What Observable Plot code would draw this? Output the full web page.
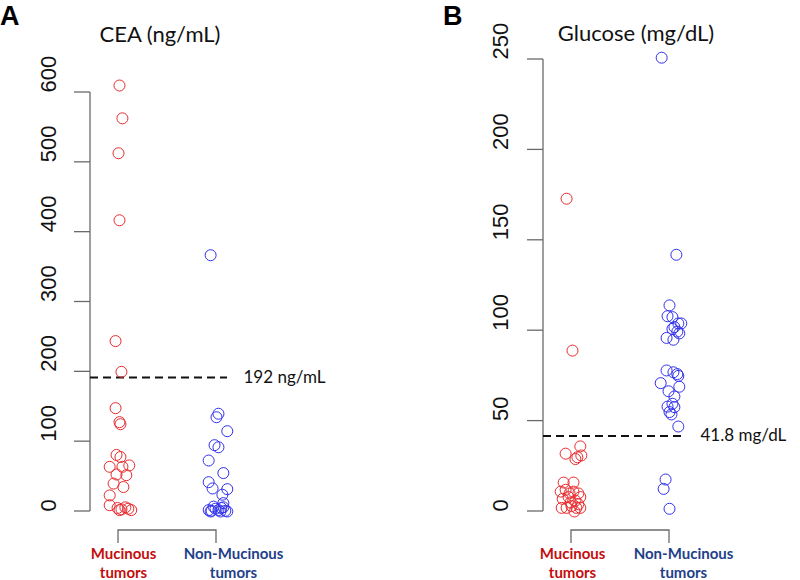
<!DOCTYPE html>
<html><head><meta charset="utf-8">
<script src="https://cdn.jsdelivr.net/npm/d3@7"></script>
<script src="https://cdn.jsdelivr.net/npm/@observablehq/plot@0.6"></script>
<style>
html,body{margin:0;padding:0;background:#fff;}
#root{position:relative;width:800px;height:580px;overflow:hidden;background:#fff;}
.panel{position:absolute;top:0;}
.letter{position:absolute;font-family:"Liberation Sans",Arial,sans-serif;font-weight:bold;font-size:27px;line-height:27px;color:#000;}
.title{position:absolute;font-family:Lato,"Open Sans",sans-serif;font-size:22px;line-height:22px;text-align:center;width:240px;color:#111;}
</style></head><body><div id="root"></div>
<script>
// ---- data ----
const groupLabels = ["Mucinous\ntumors", "Non-Mucinous\ntumors"];
const groupColors = ["#c40d0d", "#1f3f8a"];

const ceaTitle = "CEA (ng/mL)";
const ceaTicks = [0, 100, 200, 300, 400, 500, 600];
const ceaCutoff = 192;
const ceaCutoffLabel = "192 ng/mL";
const ceaMucinous = [610,563,513,417,244,200,148,128,125,81,78,64,64,66,53,52,40,35,23,9,5,3,6,4,2,2];
const ceaMucinousJitter = [0.01,0.04,0,0.01,-0.03,0.03,-0.03,0.01,0.02,-0.02,0.02,-0.09,0.04,0.11,-0.02,0.08,-0.05,0.05,-0.09,-0.09,-0.01,0.03,0.07,0.10,0.13,0.01];
const ceaNonMucinous = [367,140,135,115,95,92,73,55,42,33,32,24,12,2,1,4,2,5,1,0,0,0,6,7];
const ceaNonMucinousJitter = [-0.06,0.02,0,0.11,-0.02,0.02,-0.08,0.07,-0.08,-0.04,0.11,0.06,0.07,-0.08,-0.05,-0.01,0.02,0.05,0.09,0.11,-0.06,0.04,0.07,-0.03];

const gluTitle = "Glucose (mg/dL)";
const gluTicks = [0, 50, 100, 150, 200, 250];
const gluCutoff = 41.8;
const gluCutoffLabel = "41.8 mg/dL";
const gluMucinous = [173,89,36,32,30,31,29,16,16,11,12,10,11,10,7,8,6,8,2,2,3,2,2,0,5,4];
const gluMucinousJitter = [-0.05,0.01,0.09,-0.06,0.06,0.10,0.04,-0.08,0.02,-0.11,-0.06,-0.02,0.02,0.07,-0.09,-0.03,0.04,0.09,-0.10,-0.05,0,0.05,0.09,0.03,-0.01,0.07];
const gluNonMucinous = [251,142,114,108,107.5,104,104,102,101,99.5,98.5,96,95,78,77,76,75,71,69,66.5,63.6,59.6,58,57.7,55,53.7,47,17.7,12.5,1.5];
const gluNonMucinousJitter = [-0.08,0.07,0,-0.02,0.03,0.09,0.12,0.05,0.03,0.08,0.10,-0.03,0.04,-0.03,0.04,0.08,0.09,-0.09,0.10,-0.01,0.05,0.03,-0.02,0.05,0,0.02,0.09,-0.04,-0.06,0];

const pointRed = "#e82a2d";
const pointBlue = "#3030ee";
const labelFont = "Lato, 'Open Sans', sans-serif";

function panel(o) {
  const muc = o.mucV.map((v, i) => ({g: 1, v, j: o.mucJ[i]}));
  const non = o.nonV.map((v, i) => ({g: 2, v, j: o.nonJ[i]}));
  const ticks = o.ticks;
  return Plot.plot({
    width: 400, height: 580,
    marginTop: o.mt, marginBottom: 69, marginLeft: o.ml, marginRight: o.mr,
    x: {type: "linear", domain: [1, 2], range: o.xr, axis: null},
    y: {type: "linear", domain: [0, ticks[ticks.length - 1]], axis: null},
    style: {fontFamily: "'Liberation Sans', Arial, sans-serif", background: "transparent", overflow: "visible"},
    marks: [
      (index, scales, values, dims) => {
        const {x, y} = scales;
        const g = d3.create("svg:g").attr("stroke", "#6a6a6a").attr("fill", "none").attr("stroke-width", 1.3);
        const x0 = dims.marginLeft;
        g.append("line").attr("x1", x0).attr("x2", x0).attr("y1", y(0)).attr("y2", y(ticks[ticks.length - 1]));
        for (const t of ticks) g.append("line").attr("x1", x0 - 16).attr("x2", x0).attr("y1", y(t)).attr("y2", y(t));
        const yb = y(0) + 19;
        g.append("path").attr("d", `M${x(1)},${yb + 13}V${yb}H${x(2)}V${yb + 13}`);
        return g.node();
      },
      Plot.text(ticks, {y: d => d, text: d => String(d), frameAnchor: "left", dx: o.tdx, rotate: -90, fontSize: 22, fill: "#111"}),
      Plot.ruleY([o.cutoff], {stroke: "#111", strokeWidth: 2, strokeDasharray: "8,5"}),
      Plot.text([o.cutoff], {y: d => d, text: () => o.cutoffLabel, frameAnchor: "right", dx: o.cdx, textAnchor: "start", fontSize: 17, fontFamily: labelFont, fill: "#111"}),
      Plot.dot(muc, {x: d => d.g + d.j, y: "v", r: 5.5, stroke: pointRed, fill: "none", strokeWidth: 1}),
      Plot.dot(non, {x: d => d.g + d.j, y: "v", r: 5.5, stroke: pointBlue, fill: "none", strokeWidth: 1}),
      Plot.text([1], {x: d => d, text: () => groupLabels[0], frameAnchor: "bottom", dy: 51, dx: o.ldx[0], lineAnchor: "middle", lineHeight: 1.25, fontSize: 15, fontWeight: "bold", fontFamily: labelFont, fill: groupColors[0]}),
      Plot.text([2], {x: d => d, text: () => groupLabels[1], frameAnchor: "bottom", dy: 51, dx: o.ldx[1], lineAnchor: "middle", lineHeight: 1.25, fontSize: 15, fontWeight: "bold", fontFamily: labelFont, fill: groupColors[1]})
    ]
  });
}

const root = document.getElementById("root");
const a = panel({mucV: ceaMucinous, mucJ: ceaMucinousJitter, nonV: ceaNonMucinous, nonJ: ceaNonMucinousJitter,
  ticks: ceaTicks, cutoff: ceaCutoff, cutoffLabel: ceaCutoffLabel, mt: 92, ml: 90, mr: 173, xr: [118, 216], tdx: -42, cdx: 16, ldx: [5, 17]});
a.classList.add("panel"); a.style.left = "0px";
root.appendChild(a);
const b = panel({mucV: gluMucinous, mucJ: gluMucinousJitter, nonV: gluNonMucinous, nonJ: gluNonMucinousJitter,
  ticks: gluTicks, cutoff: gluCutoff, cutoffLabel: gluCutoffLabel, mt: 59, ml: 143, mr: 117, xr: [171, 269], tdx: -43, cdx: 17, ldx: [1, 14]});
b.classList.add("panel"); b.style.left = "400px";
root.appendChild(b);

function addDiv(cls, text, left, top) {
  const d = document.createElement("div");
  d.className = cls; d.textContent = text; d.style.left = left + "px"; d.style.top = top + "px";
  root.appendChild(d);
}
addDiv("letter", "A", 0, 3);
addDiv("letter", "B", 443, 3);
addDiv("title", ceaTitle, 40, 23);
addDiv("title", gluTitle, 516, 22);
</script>
</body></html>
